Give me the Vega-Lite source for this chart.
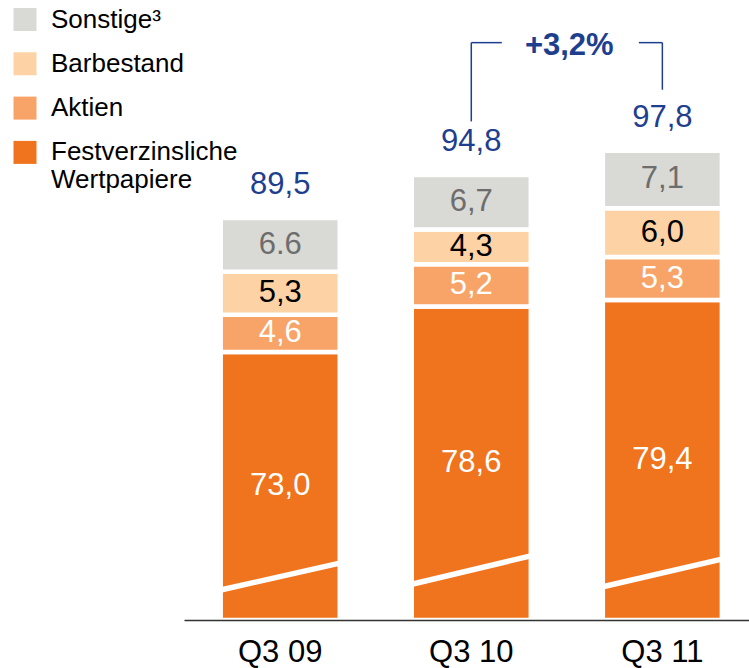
{
  "$schema": "https://vega.github.io/schema/vega-lite/v6.json",
  "width": 565,
  "height": 610,
  "autosize": {"type": "none"},
  "padding": {"left": 184, "top": 10, "right": 0, "bottom": 48},
  "config": {
    "view": {"stroke": null},
    "font": "Liberation Sans",
    "locale": {"number": {"decimal": ",", "thousands": ".", "grouping": [3], "currency": ["", " €"]}}
  },
  "resolve": {"scale": {"xOffset": "independent"}},
  "datasets": {
    "segments": [
      {"quarter": "Q3 09", "category": "Festverzinsliche Wertpapiere", "value": 73.0, "label": "73,0"},
      {"quarter": "Q3 09", "category": "Aktien", "value": 4.6, "label": "4,6"},
      {"quarter": "Q3 09", "category": "Barbestand", "value": 5.3, "label": "5,3"},
      {"quarter": "Q3 09", "category": "Sonstige³", "value": 6.6, "label": "6.6"},
      {"quarter": "Q3 10", "category": "Festverzinsliche Wertpapiere", "value": 78.6, "label": "78,6"},
      {"quarter": "Q3 10", "category": "Aktien", "value": 5.2, "label": "5,2"},
      {"quarter": "Q3 10", "category": "Barbestand", "value": 4.3, "label": "4,3"},
      {"quarter": "Q3 10", "category": "Sonstige³", "value": 6.7, "label": "6,7"},
      {"quarter": "Q3 11", "category": "Festverzinsliche Wertpapiere", "value": 79.4, "label": "79,4"},
      {"quarter": "Q3 11", "category": "Aktien", "value": 5.3, "label": "5,3"},
      {"quarter": "Q3 11", "category": "Barbestand", "value": 6.0, "label": "6,0"},
      {"quarter": "Q3 11", "category": "Sonstige³", "value": 7.1, "label": "7,1"}
    ],
    "breaks": [
      {"quarter": "Q3 09", "side": "L", "level": 43.7},
      {"quarter": "Q3 09", "side": "R", "level": 47.0},
      {"quarter": "Q3 10", "side": "L", "level": 44.4},
      {"quarter": "Q3 10", "side": "R", "level": 47.9},
      {"quarter": "Q3 11", "side": "L", "level": 44.1},
      {"quarter": "Q3 11", "side": "R", "level": 47.5}
    ]
  },
  "layer": [
    {
      "data": {"name": "segments"},
      "transform": [
        {"calculate": "indexof(['Festverzinsliche Wertpapiere', 'Aktien', 'Barbestand', 'Sonstige³'], datum.category)", "as": "rank"},
        {"stack": "value", "groupby": ["quarter"], "sort": [{"field": "rank", "order": "ascending"}], "as": ["v0", "v1"]},
        {"calculate": "(max(datum.v0, 40) + datum.v1) / 2", "as": "mid"}
      ],
      "layer": [
        {
          "mark": {"type": "bar", "stroke": "white", "strokeWidth": 4.5},
          "encoding": {
            "x": {
              "field": "quarter", "type": "nominal",
              "scale": {"paddingInner": 0.377, "paddingOuter": 0.167, "align": 0.575},
              "axis": {
                "title": null, "ticks": false, "labelAngle": 0, "labelFontSize": 31,
                "labelColor": "black", "labelPadding": 17, "domainColor": "#333333",
                "domainWidth": 1.5, "labelFont": "Liberation Sans", "zindex": 1
              }
            },
            "y": {
              "field": "v1", "type": "quantitative",
              "scale": {"domain": [40, 115.12], "zero": false, "nice": false, "clamp": true},
              "axis": null
            },
            "y2": {"field": "v0"},
            "color": {
              "field": "category", "type": "nominal",
              "scale": {
                "domain": ["Sonstige³", "Barbestand", "Aktien", "Festverzinsliche Wertpapiere"],
                "range": ["#D9D9D5", "#FDD3A5", "#F8A469", "#F0731E"]
              },
              "legend": {
                "orient": "none", "legendX": -172, "legendY": -3.5, "title": null,
                "symbolType": "square", "symbolSize": 529, "symbolStrokeWidth": 0,
                "labelFontSize": 26, "labelFont": "Liberation Sans", "labelColor": "black",
                "labelOffset": 13, "rowPadding": 18.3, "labelLimit": 0, "padding": 0, "offset": 0,
                "labelExpr": "datum.value == 'Festverzinsliche Wertpapiere' ? ['Festverzinsliche', 'Wertpapiere'] : datum.label",
                "encode": {
                  "labels": {
                    "dy": {"condition": {"test": "datum.value == 'Festverzinsliche Wertpapiere'", "value": 17.5}, "value": 0},
                    "lineHeight": {"value": 35}
                  }
                }
              }
            }
          }
        },
        {
          "mark": {"type": "text", "fontSize": 31, "baseline": "middle", "font": "Liberation Sans"},
          "encoding": {
            "x": {"field": "quarter", "type": "nominal"},
            "y": {"field": "mid", "type": "quantitative", "scale": {"domain": [40, 115.12], "zero": false, "nice": false}},
            "text": {"field": "label"},
            "color": {
              "condition": [
                {"test": "datum.category == 'Barbestand'", "value": "black"},
                {"test": "datum.category == 'Sonstige³'", "value": "#6D6D6D"}
              ],
              "value": "white"
            }
          }
        }
      ]
    },
    {
      "data": {"name": "segments"},
      "transform": [{"aggregate": [{"op": "sum", "field": "value", "as": "total"}], "groupby": ["quarter"]}],
      "mark": {"type": "text", "fontSize": 31, "baseline": "middle", "dy": -33, "color": "#1E3E8E", "font": "Liberation Sans"},
      "encoding": {
        "x": {"field": "quarter", "type": "nominal"},
        "y": {"field": "total", "type": "quantitative", "scale": {"domain": [40, 115.12], "zero": false, "nice": false}},
        "text": {"field": "total", "type": "quantitative", "format": ".1f"}
      }
    },
    {
      "data": {"name": "breaks"},
      "mark": {"type": "line", "color": "white", "strokeWidth": 5.5, "strokeCap": "butt"},
      "encoding": {
        "x": {"field": "quarter", "type": "nominal"},
        "xOffset": {"field": "side", "type": "nominal", "scale": {"type": "point", "padding": 0}},
        "y": {"field": "level", "type": "quantitative", "scale": {"domain": [40, 115.12], "zero": false, "nice": false}},
        "detail": {"field": "quarter"}
      }
    },
    {
      "data": {"values": [{}]},
      "layer": [
        {
          "mark": {"type": "rule", "color": "#1E3E8E", "strokeWidth": 1.5},
          "encoding": {
            "x": {"datum": "Q3 10", "type": "nominal"},
            "y": {"datum": 111.1, "type": "quantitative"},
            "y2": {"datum": 101.4}
          }
        },
        {
          "mark": {"type": "rule", "color": "#1E3E8E", "strokeWidth": 1.5},
          "encoding": {
            "x": {"datum": "Q3 11", "type": "nominal"},
            "y": {"datum": 111.1, "type": "quantitative"},
            "y2": {"datum": 105.3}
          }
        },
        {
          "mark": {"type": "rule", "color": "#1E3E8E", "strokeWidth": 1.5, "x2Offset": 30.5},
          "encoding": {
            "x": {"datum": "Q3 10", "type": "nominal"},
            "x2": {"datum": "Q3 10"},
            "y": {"datum": 111.1, "type": "quantitative"}
          }
        },
        {
          "mark": {"type": "rule", "color": "#1E3E8E", "strokeWidth": 1.5, "xOffset": -23.5},
          "encoding": {
            "x": {"datum": "Q3 11", "type": "nominal"},
            "x2": {"datum": "Q3 11"},
            "y": {"datum": 111.1, "type": "quantitative"}
          }
        },
        {
          "mark": {"type": "text", "text": "+3,2%", "fontSize": 31, "fontWeight": "bold", "baseline": "middle", "dx": 98, "dy": 3, "color": "#1E3E8E", "font": "Liberation Sans"},
          "encoding": {
            "x": {"datum": "Q3 10", "type": "nominal"},
            "y": {"datum": 111.1, "type": "quantitative"}
          }
        }
      ]
    }
  ]
}
